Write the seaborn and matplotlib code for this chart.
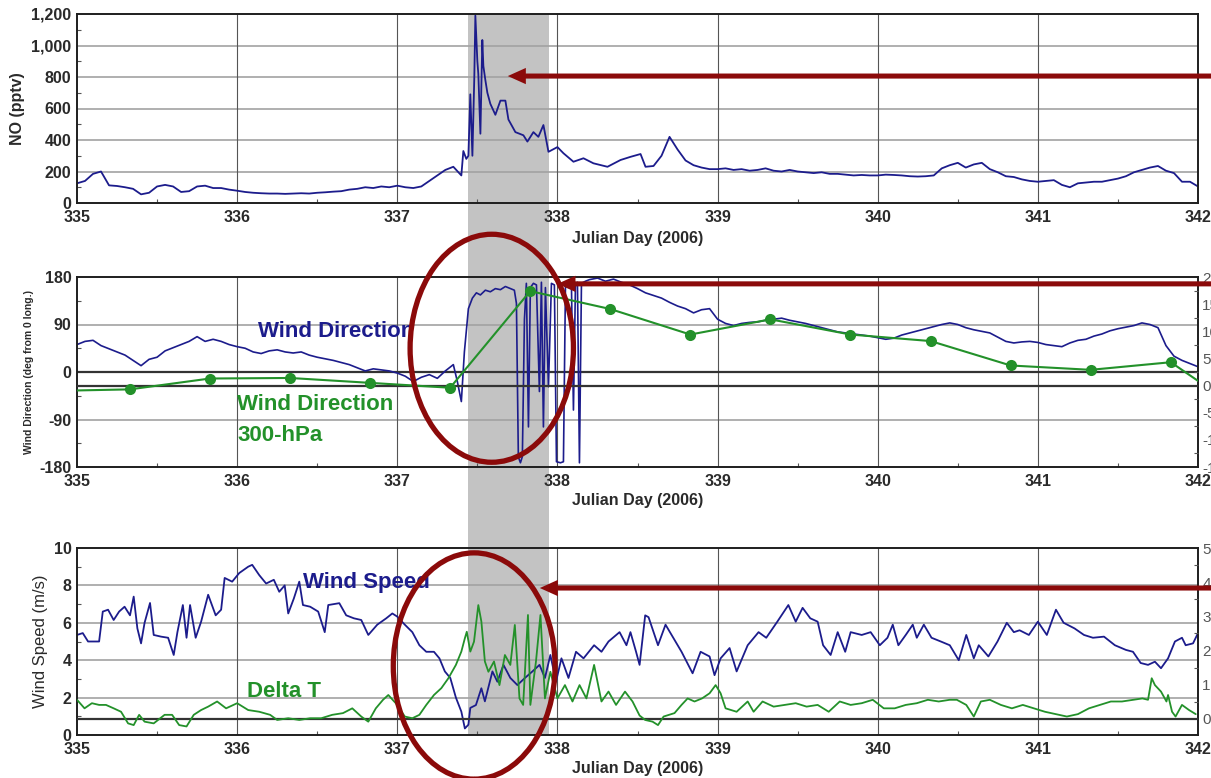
import numpy as np
import matplotlib
matplotlib.use("Agg")
import matplotlib.pyplot as plt
import seaborn as sns
from matplotlib.patches import Ellipse
from matplotlib.ticker import MultipleLocator
from matplotlib.transforms import blended_transform_factory

# ---------------- data ----------------
# NO mixing ratio (pptv): 0.05-day samples plus a dense stretch around the plume
no_fine_day = [337.4125, 337.431, 337.444, 337.456, 337.469, 337.481, 337.4875, 337.5,
               337.506, 337.519, 337.531, 337.5375, 337.55, 337.5625, 337.581, 337.6125,
               337.644, 337.675, 337.694, 337.7375, 337.7875, 337.8125, 337.85, 337.881,
               337.9125, 337.944, 338.0, 338.0375, 338.1, 338.1625, 338.225, 338.3125,
               338.394, 338.456, 338.519, 338.55]
no_fine_pptv = [330, 280, 300, 690, 300, 800, 1190, 900, 820, 440, 1035, 870, 780, 700,
                630, 560, 650, 650, 530, 450, 430, 390, 450, 420, 495, 325, 355, 316,
                262, 284, 252, 230, 273, 293, 311, 230]
no_early_pptv = [125, 140, 185, 200, 112, 108, 100, 90, 55, 65,
                 105, 115, 105, 70, 75, 105, 110, 95, 95, 85,
                 78, 70, 65, 62, 60, 60, 58, 60, 62, 60,
                 65, 68, 72, 75, 85, 90, 100, 95, 105, 100,
                 110, 100, 95, 105, 140, 175, 210, 230, 175]
no_late_pptv = [235, 300, 420, 340, 270, 240, 225, 215,
                215, 220, 210, 215, 205, 210, 220, 205, 200, 210,
                200, 195, 190, 195, 185, 185, 180, 175, 178, 175,
                175, 180, 178, 175, 170, 168, 170, 175, 220, 240,
                255, 225, 245, 255, 215, 195, 170, 165, 150, 140,
                135, 140, 145, 115, 100, 125, 130, 135, 135, 145,
                155, 170, 195, 210, 225, 235, 205, 190, 135, 135,
                105]
no_day = np.r_[np.linspace(335.0, 337.4, 49), no_fine_day, np.linspace(338.6, 342.0, 69)]
no_pptv = np.r_[no_early_pptv, no_fine_pptv, no_late_pptv]

# Surface wind direction (deg from 0 long.)
wd_fine_day = [337.375, 337.40, 337.419, 337.444, 337.469, 337.494, 337.519, 337.55,
               337.581, 337.6125, 337.644, 337.675, 337.706, 337.731, 337.744, 337.756,
               337.769, 337.781, 337.794, 337.806, 337.819, 337.831, 337.85, 337.869,
               337.8875, 337.9, 337.9125, 337.925, 337.944, 337.9625, 337.981, 337.994,
               338.019, 338.0375, 338.05, 338.069, 338.0875, 338.1, 338.1125, 338.125,
               338.1375, 338.15, 338.175]
wd_fine_deg = [-18, -56, 38, 120, 140, 150, 146, 155, 152, 158, 156, 162, 158, 155, 130,
               -161, -172, -160, 100, 168, -104, 160, 168, 165, -37, 170, -104, 160, -28,
               168, 165, -170, -172, -170, 160, 170, 165, -72, 165, 170, -172, 168, 172]
wd_early_deg = [52, 58, 60, 50, 44, 38, 32, 22, 12, 24,
                28, 40, 46, 52, 58, 67, 58, 62, 58, 52,
                48, 45, 38, 35, 40, 42, 38, 36, 38, 32,
                28, 25, 22, 18, 14, 8, 2, 6, 4, 2,
                -2, -8, -18, -10, -5, -12, 2, 14]
wd_late_deg = [175, 178, 172, 176, 170, 165, 158, 150, 145, 140, 132, 125, 120, 112, 118, 120,
               100, 92, 88, 92, 94, 95, 98, 100, 102, 98,
               95, 92, 88, 84, 80, 76, 74, 72, 70, 68,
               65, 62, 64, 70, 74, 78, 82, 86, 90, 93,
               90, 84, 80, 77, 74, 66, 58, 55, 57, 58,
               56, 52, 50, 48, 55, 60, 62, 68, 72, 78,
               82, 85, 88, 93, 90, 84, 50, 30, 22, 16,
               10]
wd_day = np.r_[np.linspace(335.0, 337.35, 48), wd_fine_day, np.linspace(338.2, 342.0, 77)]
wd_deg = np.r_[wd_early_deg, wd_fine_deg, wd_late_deg]

# 300-hPa wind direction (right axis)
wd300_day = [334.83, 335.33, 335.83, 336.33, 336.83, 337.33, 337.83, 338.33,
             338.83, 339.33, 339.83, 340.33, 340.83, 341.33, 341.83, 342.33]
wd300_val = [-10, -7, 13, 14, 5, -4, 174, 141, 94, 122, 94, 82, 37, 29, 43, -58]

# Wind speed (m/s)
ws_day = [335.0, 335.036, 335.069, 335.138, 335.161, 335.194, 335.229, 335.263, 335.297, 335.331,
          335.354, 335.377, 335.4, 335.422, 335.456, 335.479, 335.525, 335.569, 335.604, 335.627,
          335.661, 335.684, 335.706, 335.741, 335.775, 335.819, 335.866, 335.9, 335.922, 335.969,
          336.013, 336.069, 336.094, 336.138, 336.181, 336.229, 336.263, 336.297, 336.319, 336.354,
          336.388, 336.411, 336.456, 336.506, 336.547, 336.569, 336.638, 336.681, 336.729, 336.775,
          336.819, 336.875, 336.931, 336.969, 337.0, 337.047, 337.094, 337.138, 337.181, 337.229,
          337.263, 337.297, 337.331, 337.366, 337.4, 337.422, 337.444, 337.456, 337.491, 337.525,
          337.547, 337.594, 337.625, 337.663, 337.706, 337.75, 337.797, 337.844, 337.888, 337.922,
          337.956, 337.991, 338.025, 338.069, 338.116, 338.163, 338.229, 338.275, 338.319, 338.388,
          338.431, 338.456, 338.491, 338.513, 338.548, 338.569, 338.628, 338.675, 338.706, 338.775,
          338.844, 338.894, 338.95, 338.981, 339.019, 339.075, 339.119, 339.188, 339.256, 339.304,
          339.373, 339.442, 339.488, 339.531, 339.579, 339.625, 339.659, 339.706, 339.75, 339.797,
          339.831, 339.9, 339.956, 340.013, 340.061, 340.094, 340.129, 340.175, 340.219, 340.244,
          340.288, 340.336, 340.394, 340.45, 340.506, 340.553, 340.6, 340.631, 340.691, 340.748,
          340.806, 340.85, 340.886, 340.944, 341.0, 341.056, 341.113, 341.161, 341.229, 341.288,
          341.344, 341.413, 341.481, 341.55, 341.594, 341.642, 341.688, 341.731, 341.769, 341.813,
          341.856, 341.9, 341.923, 341.969, 342.0]
ws_ms = [5.35, 5.45, 5.0, 5.0, 6.6, 6.7, 6.15, 6.6, 6.86, 6.4,
         7.4, 5.7, 4.9, 6.0, 7.06, 5.35, 5.26, 5.2, 4.28, 5.5,
         6.95, 5.2, 6.95, 5.2, 6.06, 7.5, 6.4, 6.7, 8.4, 8.2,
         8.66, 9.0, 9.1, 8.55, 8.1, 8.3, 7.66, 8.0, 6.5, 7.3,
         8.2, 6.95, 6.86, 6.6, 5.5, 6.95, 7.05, 6.4, 6.24, 6.15,
         5.35, 5.9, 6.24, 6.5, 6.33, 5.9, 5.5, 4.8, 4.45, 4.45,
         4.1, 3.4, 3.05, 2.0, 1.25, 0.35, 0.55, 1.45, 1.6, 2.5,
         1.8, 3.4, 2.85, 3.75, 3.05, 2.67, 3.05, 3.4, 3.75, 3.05,
         4.28, 2.85, 4.1, 3.05, 4.45, 4.1, 4.8, 4.45, 5.0, 5.5,
         4.8, 5.5, 4.45, 3.75, 6.4, 6.3, 4.8, 5.9, 5.45, 4.45,
         3.3, 4.45, 4.2, 3.2, 4.1, 4.65, 3.4, 4.8, 5.5, 5.2,
         6.06, 6.95, 6.06, 6.8, 6.24, 6.06, 4.8, 4.28, 5.5, 4.45,
         5.5, 5.35, 5.5, 4.8, 5.2, 5.9, 4.8, 5.35, 5.9, 5.2,
         5.9, 5.2, 5.0, 4.8, 4.0, 5.35, 4.1, 4.8, 4.2, 5.0,
         6.0, 5.5, 5.6, 5.35, 6.06, 5.35, 6.7, 6.0, 5.7, 5.35,
         5.2, 5.26, 4.8, 4.55, 4.45, 3.85, 3.75, 3.92, 3.57, 4.1,
         5.0, 5.2, 4.8, 4.9, 5.45]

# Delta T (right axis)
dt_day = [335.0, 335.047, 335.093, 335.138, 335.181, 335.229, 335.275, 335.319, 335.354, 335.388,
          335.422, 335.479, 335.547, 335.594, 335.638, 335.684, 335.729, 335.775, 335.819, 335.875,
          335.931, 336.0, 336.069, 336.138, 336.206, 336.25, 336.319, 336.388, 336.456, 336.525,
          336.594, 336.661, 336.719, 336.775, 336.819, 336.866, 336.911, 336.944, 337.0, 337.047,
          337.094, 337.138, 337.181, 337.229, 337.275, 337.319, 337.366, 337.4, 337.422, 337.434,
          337.456, 337.479, 337.506, 337.525, 337.547, 337.569, 337.604, 337.638, 337.672, 337.706,
          337.734, 337.763, 337.786, 337.816, 337.831, 337.866, 337.894, 337.922, 337.956, 338.0,
          338.047, 338.094, 338.138, 338.181, 338.229, 338.275, 338.319, 338.366, 338.422, 338.469,
          338.513, 338.548, 338.594, 338.628, 338.663, 338.731, 338.775, 338.813, 338.856, 338.903,
          338.95, 338.988, 339.019, 339.05, 339.119, 339.188, 339.225, 339.281, 339.35, 339.419,
          339.488, 339.556, 339.625, 339.694, 339.763, 339.831, 339.9, 339.969, 340.038, 340.106,
          340.175, 340.244, 340.313, 340.381, 340.45, 340.494, 340.553, 340.6, 340.644, 340.7,
          340.769, 340.838, 340.906, 340.975, 341.044, 341.113, 341.181, 341.25, 341.319, 341.388,
          341.456, 341.525, 341.594, 341.653, 341.688, 341.711, 341.731, 341.769, 341.803, 341.813,
          341.838, 341.86, 341.9, 341.944, 341.986]
dt_val = [0.56, 0.31, 0.46, 0.41, 0.41, 0.31, 0.21, -0.13, -0.18, 0.12,
          -0.08, -0.13, 0.12, 0.12, -0.18, -0.22, 0.12, 0.26, 0.36, 0.51,
          0.31, 0.46, 0.26, 0.21, 0.12, -0.03, 0.02, -0.03, 0.02, 0.02,
          0.12, 0.17, 0.31, 0.07, -0.08, 0.31, 0.56, 0.7, 0.41, 0.07,
          0.02, 0.12, 0.41, 0.7, 0.9, 1.19, 1.58, 1.97, 2.36, 2.55,
          1.97, 2.26, 3.33, 2.85, 1.68, 1.38, 1.68, 0.99, 1.87, 1.58,
          2.75, 0.6, 0.41, 3.04, 0.41, 1.68, 3.04, 0.6, 1.38, 0.6,
          0.99, 0.51, 0.99, 0.6, 1.58, 0.51, 0.8, 0.41, 0.8, 0.51,
          0.1, -0.03, -0.08, -0.18, 0.07, 0.17, 0.41, 0.6, 0.51, 0.6,
          0.75, 0.99, 0.75, 0.31, 0.21, 0.51, 0.21, 0.51, 0.36, 0.41,
          0.46, 0.36, 0.41, 0.21, 0.51, 0.41, 0.46, 0.56, 0.31, 0.31,
          0.41, 0.46, 0.56, 0.51, 0.56, 0.56, 0.41, 0.07, 0.51, 0.56,
          0.41, 0.31, 0.41, 0.31, 0.21, 0.14, 0.07, 0.14, 0.31, 0.41,
          0.51, 0.51, 0.56, 0.6, 0.56, 1.19, 0.99, 0.8, 0.51, 0.7,
          0.21, 0.07, 0.41, 0.26, 0.14]

day_ticks = [335, 336, 337, 338, 339, 340, 341, 342]
no_ticks = [0, 200, 400, 600, 800, 1000, 1200]
wd_ticks = [-180, -90, 0, 90, 180]
wd300_ticks = [-150, -100, -50, 0, 50, 100, 150, 200]
ws_ticks = [0, 2, 4, 6, 8, 10]
dt_ticks = [0, 1, 2, 3, 4, 5]

plume_start, plume_end = 337.444, 337.95

# ---------------- style ----------------
sns.set_theme(style="white")
plt.rcParams["font.family"] = ["Liberation Sans", "DejaVu Sans"]
plt.rcParams["font.weight"] = "bold"
plt.rcParams["axes.labelweight"] = "bold"

NAVY = "#1c1c8c"
GREEN = "#23912a"
DARKRED = "#8b0a0a"
TICKCOL = "#2a2a2a"

fig = plt.figure(figsize=(12.11, 7.78), dpi=100)
FW, FH = 1211.0, 778.0
L, W = 77 / FW, 1121 / FW


def rect(top_px, bot_px):
    return [L, 1 - bot_px / FH, W, (bot_px - top_px) / FH]


ax_bg = fig.add_axes(rect(14, 735))
ax_bg.set_zorder(0)
ax_bg.set_xlim(335, 342)
ax_bg.axis("off")
ax_bg.axvspan(plume_start, plume_end, color="#c3c3c3", lw=0)

ax_no = fig.add_axes(rect(14, 203))
ax_wd = fig.add_axes(rect(277, 467))
ax_ws = fig.add_axes(rect(548, 735))
for ax in (ax_no, ax_wd, ax_ws):
    ax.set_zorder(1)
    ax.set_facecolor("none")

ax_wd2 = ax_wd.twinx()
ax_ws2 = ax_ws.twinx()
for ax in (ax_wd2, ax_ws2):
    ax.set_zorder(2)
    ax.set_facecolor("none")

# ---------------- series ----------------
sns.lineplot(x=no_day, y=no_pptv, ax=ax_no, color=NAVY, lw=1.3, estimator=None)
sns.lineplot(x=wd_day, y=wd_deg, ax=ax_wd, color=NAVY, lw=1.2, estimator=None)
sns.lineplot(x=wd300_day, y=wd300_val, ax=ax_wd2, color=GREEN, lw=1.5, estimator=None,
             marker="o", markersize=8, markeredgewidth=0)
sns.lineplot(x=ws_day, y=ws_ms, ax=ax_ws, color=NAVY, lw=1.3, estimator=None)
sns.lineplot(x=dt_day, y=dt_val, ax=ax_ws2, color=GREEN, lw=1.3, estimator=None)


def style_main(ax, yticks, ylabels, ylim):
    ax.set_xlim(335, 342)
    ax.set_ylim(*ylim)
    ax.set_xticks(day_ticks)
    ax.set_xticklabels([str(d) for d in day_ticks], fontsize=11.5, fontweight="bold",
                       color=TICKCOL)
    ax.set_yticks(yticks)
    ax.set_yticklabels(ylabels, fontsize=11.5, fontweight="bold", color=TICKCOL)
    ax.xaxis.set_minor_locator(MultipleLocator(0.5))
    ax.tick_params(which="major", length=0, pad=5)
    ax.tick_params(axis="y", which="major", pad=4)
    ax.tick_params(which="minor", direction="in", length=3, width=0.8, color="#555555",
                   bottom=True, left=True)
    ax.grid(False)
    for v in yticks:
        if ylim[0] < v < ylim[1]:
            ax.axhline(v, color="#a2a2a2", lw=1.2, zorder=0.5)
    for d in day_ticks[1:-1]:
        ax.axvline(d, color="#555555", lw=0.8, zorder=0.5)
    for s in ax.spines.values():
        s.set_color("#1e1e1e")
        s.set_linewidth(1.4)
    ax.set_xlabel("Julian Day (2006)", fontsize=11.5, fontweight="bold", color=TICKCOL)


def style_right(ax, yticks, ylim, minor):
    ax.set_ylim(*ylim)
    ax.set_yticks(yticks)
    ax.set_yticklabels([str(v) for v in yticks], fontsize=11, fontweight="normal",
                       color="#555555")
    ax.yaxis.set_minor_locator(MultipleLocator(minor))
    ax.tick_params(axis="y", which="major", length=0, pad=3)
    ax.tick_params(axis="y", which="minor", direction="in", length=3, width=0.8,
                   color="#555555", right=True)
    ax.grid(False)
    for s in ax.spines.values():
        s.set_visible(False)


# NO panel
style_main(ax_no, no_ticks, [f"{v:,}" for v in no_ticks], (0, 1200))
ax_no.yaxis.set_minor_locator(MultipleLocator(100))
ax_no.set_ylabel("NO (pptv)", fontsize=11.5, fontweight="bold", color=TICKCOL)
ax_no.yaxis.set_label_coords(-0.0464, 0.5)
ax_no.xaxis.set_label_coords(0.5, -0.148)

# Wind direction panel
style_main(ax_wd, wd_ticks, [str(v) for v in wd_ticks], (-180, 180))
ax_wd.yaxis.set_minor_locator(MultipleLocator(45))
ax_wd.axhline(0, color="#333333", lw=1.6, zorder=0.6)
ax_wd.set_ylabel("Wind Direction (deg from 0 long.)", fontsize=7.5, fontweight="bold",
                 color=TICKCOL)
ax_wd.yaxis.set_label_coords(-0.0384, 0.5)
ax_wd.xaxis.set_label_coords(0.5, -0.137)
style_right(ax_wd2, wd300_ticks, (-150, 200), 25)
ax_wd2.axhline(0, color="#333333", lw=1.6, zorder=0.6)
ax_wd2.set_ylabel("")
ax_wd.text(336.13, 76, "Wind Direction", color=NAVY, fontsize=16, fontweight="bold",
           va="center", ha="left")
ax_wd.text(336.0, -61, "Wind Direction", color=GREEN, fontsize=16, fontweight="bold",
           va="center", ha="left")
ax_wd.text(336.0, -121, "300-hPa", color=GREEN, fontsize=16, fontweight="bold",
           va="center", ha="left")

# Wind speed panel
style_main(ax_ws, ws_ticks, [str(v) for v in ws_ticks], (0, 10))
ax_ws.yaxis.set_minor_locator(MultipleLocator(1))
ax_ws.set_ylabel("Wind Speed (m/s)", fontsize=12, fontweight="normal", color=TICKCOL)
ax_ws.yaxis.set_label_coords(-0.0259, 0.5)
ax_ws.xaxis.set_label_coords(0.5, -0.139)
style_right(ax_ws2, dt_ticks, (-0.47, 5), 0.5)
ax_ws2.axhline(0, color="#333333", lw=1.6, zorder=0.6)
ax_ws2.set_ylabel("")
ax_ws.text(336.41, 8.13, "Wind Speed", color=NAVY, fontsize=16, fontweight="bold",
           va="center", ha="left")
ax_ws.text(336.06, 2.3, "Delta T", color=GREEN, fontsize=16, fontweight="bold",
           va="center", ha="left")

# ---------------- annotations ----------------
overlay = fig.add_axes([0, 0, 1, 1])
overlay.set_zorder(5)
overlay.set_facecolor("none")
overlay.axis("off")

overlay.plot([plume_start, plume_start], [0, 1], transform=ax_bg.transAxes,
             color="#a51a1a", lw=1.2, clip_on=False)

overlay.add_patch(Ellipse((337.59, 45), 1.02, 432, transform=ax_wd.transData,
                          fill=False, ec=DARKRED, lw=3.8, clip_on=False))
overlay.add_patch(Ellipse((337.48, 3.69), 1.01, 12.1, transform=ax_ws.transData,
                          fill=False, ec=DARKRED, lw=3.8, clip_on=False))

arrow_style = "simple,head_length=1.0,head_width=0.9,tail_width=0.28"
for ax, tip_x, tip_y in ((ax_no, 337.69, 806), (ax_wd, 338.0, 167), (ax_ws, 337.89, 7.86)):
    overlay.annotate("", xy=(tip_x, tip_y), xycoords=ax.transData,
                     xytext=(1.03, tip_y),
                     textcoords=blended_transform_factory(fig.transFigure, ax.transData),
                     arrowprops=dict(arrowstyle=arrow_style, mutation_scale=13,
                                     fc=DARKRED, ec=DARKRED, lw=0, shrinkA=0, shrinkB=0),
                     annotation_clip=False)

fig.savefig("out.png", dpi=100)
